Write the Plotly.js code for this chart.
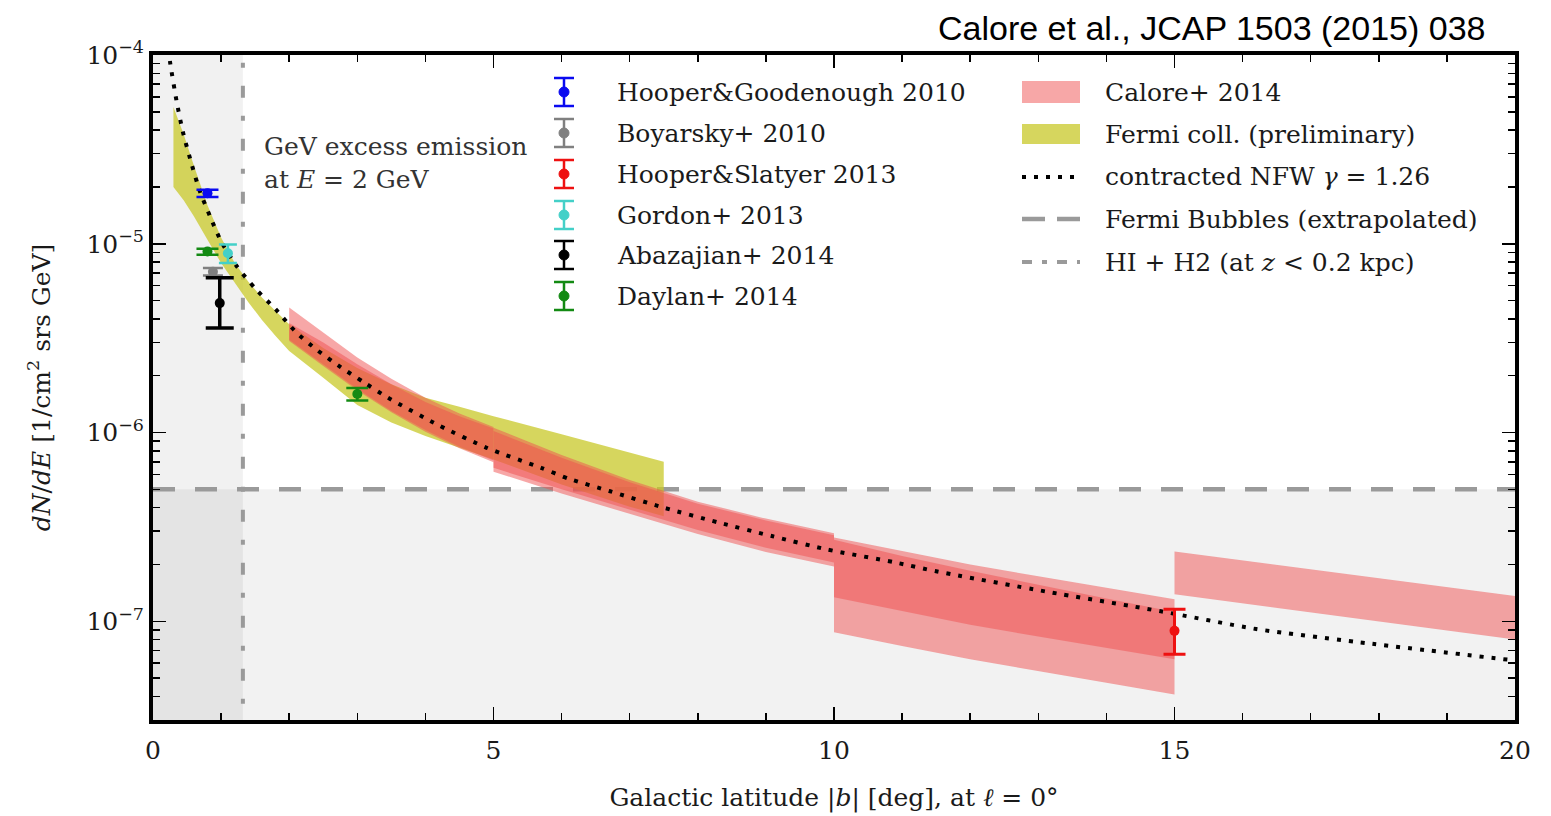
<!DOCTYPE html>
<html><head><meta charset="utf-8">
<script src="https://cdn.plot.ly/plotly-3.0.1.min.js"></script>
<style>html,body{margin:0;padding:0;background:#fff}#chart{width:1551px;height:816px}</style>
</head><body><div id="chart"></div>
<script>
// ---------------- data ----------------
// contracted NFW gamma = 1.26 (dotted curve)
const nfwX = [0.23,0.25,0.35,0.44,0.56,0.68,0.84,1.0,1.23,1.5,1.8,2.1,2.4,2.75,3.1,3.45,4.2,4.9,5.7,6.1,6.7,7.5,8.3,9.1,9.9,10.9,11.5,13.1,14.8,16.2,17.9,20.0];
const nfwY = [1.08e-4,9.2e-5,5.6e-5,3.9e-5,2.7e-5,1.93e-5,1.39e-5,1.03e-5,7.6e-6,5.8e-6,4.5e-6,3.4e-6,2.75e-6,2.23e-6,1.84e-6,1.53e-6,1.09e-6,8.3e-7,6.5e-7,5.7e-7,4.9e-7,4.0e-7,3.34e-7,2.82e-7,2.4e-7,2.05e-7,1.84e-7,1.44e-7,1.13e-7,9.1e-8,7.6e-8,6.2e-8];

// Fermi coll. (preliminary) band
const fermiX  = [0.3,0.45,0.6,0.8,1.0,1.2,1.4,1.6,1.8,2.0,2.5,3.0,3.5,4.0,4.5,5.0,6.0,7.0,7.5];
const fermiHi = [5.3e-5,3.8e-5,2.6e-5,1.6e-5,1.08e-5,7.9e-6,6.3e-6,5.2e-6,4.4e-6,3.75e-6,2.8e-6,2.2e-6,1.8e-6,1.53e-6,1.37e-6,1.22e-6,9.8e-7,7.8e-7,7.0e-7];
const fermiLo = [2.0e-5,1.7e-5,1.4e-5,1.05e-5,7.9e-6,6.2e-6,4.9e-6,3.95e-6,3.25e-6,2.7e-6,1.95e-6,1.4e-6,1.13e-6,9.6e-7,8.3e-7,7.2e-7,5.3e-7,4.05e-7,3.6e-7];

// Calore+ 2014 bands (two overlapping uncertainty bands per latitude bin)
const cal1X   = [2,2.5,3,3.5,4,4.5,5];
const cal1AHi = [4.6e-6,3.4e-6,2.5e-6,1.93e-6,1.53e-6,1.26e-6,1.07e-6];
const cal1ALo = [3.1e-6,2.3e-6,1.7e-6,1.3e-6,1.03e-6,8.4e-7,7.1e-7];
const cal1BHi = [3.8e-6,3.0e-6,2.3e-6,1.8e-6,1.45e-6,1.22e-6,1.05e-6];
const cal1BLo = [3.05e-6,2.25e-6,1.67e-6,1.28e-6,1.01e-6,8.25e-7,6.95e-7];

const cal2X   = [5,6,7,8,9,10];
const cal2AHi = [1.06e-6,7.6e-7,5.6e-7,4.3e-7,3.5e-7,2.93e-7];
const cal2ALo = [6.5e-7,5.0e-7,3.9e-7,3.05e-7,2.45e-7,2.05e-7];
const cal2BHi = [1.02e-6,7.35e-7,5.45e-7,4.2e-7,3.42e-7,2.86e-7];
const cal2BLo = [6.2e-7,4.75e-7,3.7e-7,2.9e-7,2.33e-7,1.95e-7];

const cal3X   = [10,11,12,13,14,15];
const cal3AHi = [2.78e-7,2.35e-7,2.0e-7,1.73e-7,1.5e-7,1.31e-7];
const cal3ALo = [1.34e-7,1.13e-7,9.6e-8,8.3e-8,7.2e-8,6.3e-8];
const cal3BHi = [2.7e-7,2.22e-7,1.85e-7,1.56e-7,1.32e-7,1.12e-7];
const cal3BLo = [8.75e-8,7.4e-8,6.3e-8,5.45e-8,4.72e-8,4.1e-8];

const cal4X   = [15,16,17,18,19,20];
const cal4Hi  = [2.34e-7,2.1e-7,1.89e-7,1.7e-7,1.52e-7,1.36e-7];
const cal4Lo  = [1.39e-7,1.25e-7,1.12e-7,1.0e-7,8.95e-8,8.0e-8];

// Fermi Bubbles (extrapolated) level and HI+H2 latitude
const bubblesLevel = 5e-7;
const hiH2Latitude = 1.32;

// Measurements with error bars
const pointNames  = ["Hooper&Goodenough 2010","Boyarsky+ 2010","Hooper&Slatyer 2013","Gordon+ 2013","Abazajian+ 2014","Daylan+ 2014"];
const pointX      = [[0.8],[0.88],[15.0],[1.1],[0.98],[0.8,3.0]];
const pointY      = [[1.85e-5],[7.1e-6],[8.9e-8],[8.9e-6],[4.85e-6],[9.1e-6,1.6e-6]];
const pointErrUp  = [[0.08e-5],[0.33e-6],[2.7e-8],[1.0e-6],[1.75e-6],[0.3e-6,0.12e-6]];
const pointErrDn  = [[0.08e-5],[0.32e-6],[2.2e-8],[1.0e-6],[1.27e-6],[0.35e-6,0.12e-6]];

// Legend labels (second column) and tick labels
const bandNames = ["Calore+ 2014","Fermi coll. (preliminary)","contracted NFW <i>γ</i> = 1.26","Fermi Bubbles (extrapolated)","HI + H2 (at <i>z</i> < 0.2 kpc)"];
const yTickVals = [1e-7,1e-6,1e-5,1e-4];
const yTickText = ["10<sup>−7</sup>","10<sup>−6</sup>","10<sup>−5</sup>","10<sup>−4</sup>"];
const xTickVals = [0,5,10,15,20];

// ---------------- styles ----------------
const SERIF = "DejaVu Serif";
const pink = "rgba(240,80,80,0.5)";
const yellow = "rgba(200,200,40,0.75)";
const gray = "#9a9a9a";
const pointColors = ["#0a0af0","#808080","#ee1111","#44d0c8","#000000","#138a13"];
const pointThick  = [2.5,2.5,3,2.5,3.5,2.5];
const pointCap    = [11,10,11,9,14,11];
const DASHDOT = "12px,18px,5px,18px";
const DASH = "22px,20px";
const DOT = "4px,8px";

// plot box in pixels
const L=153, R=1515, T=55, B=720, W=R-L, H=B-T;
const px = v => (v-L)/W, py = v => (B-v)/H;

function band(x, hi, lo, color){
  return {x: x.concat(x.slice().reverse()), y: hi.concat(lo.slice().reverse()),
    type:"scatter", mode:"lines", fill:"toself", fillcolor:color, line:{width:0},
    hoverinfo:"skip", showlegend:false};
}

const traces = [];
// reference lines
traces.push({x:[0,20], y:[bubblesLevel,bubblesLevel], type:"scatter", mode:"lines",
  line:{color:gray, width:4.5, dash:DASH}, showlegend:false, name:"Fermi Bubbles (extrapolated)"});
traces.push({x:[hiH2Latitude,hiH2Latitude], y:[1e-9,1e-3], type:"scatter", mode:"lines",
  line:{color:gray, width:4, dash:DASHDOT}, showlegend:false, name:"HI + H2"});
// bands
traces.push(band(fermiX, fermiHi, fermiLo, yellow));
traces.push(band(cal1X, cal1AHi, cal1ALo, pink));
traces.push(band(cal1X, cal1BHi, cal1BLo, pink));
traces.push(band(cal2X, cal2AHi, cal2ALo, pink));
traces.push(band(cal2X, cal2BHi, cal2BLo, pink));
traces.push(band(cal3X, cal3AHi, cal3ALo, pink));
traces.push(band(cal3X, cal3BHi, cal3BLo, pink));
traces.push(band(cal4X, cal4Hi, cal4Lo, pink));
// NFW
traces.push({x:nfwX, y:nfwY, type:"scatter", mode:"lines", line:{color:"#000", width:4, dash:DOT, shape:"spline", smoothing:0.6},
  showlegend:false, name:"contracted NFW"});
// measurements
pointNames.forEach((n,i)=>{
  traces.push({x:pointX[i], y:pointY[i], type:"scatter", mode:"markers", name:n, showlegend:false,
    marker:{color:pointColors[i], size:10},
    error_y:{type:"data", symmetric:false, array:pointErrUp[i], arrayminus:pointErrDn[i],
      color:pointColors[i], thickness:pointThick[i], width:pointCap[i]}});
});

// ---------------- shapes: shading + manual legend glyphs ----------------
const shapes = [
  {type:"rect", xref:"x", yref:"paper", x0:0, x1:hiH2Latitude, y0:0, y1:1, fillcolor:"rgba(0,0,0,0.055)", line:{width:0}, layer:"below"},
  {type:"rect", xref:"paper", yref:"y", x0:0, x1:1, y0:1e-9, y1:bubblesLevel, fillcolor:"rgba(0,0,0,0.05)", line:{width:0}, layer:"below"}
];
const annotations = [];
const legFont = {family:SERIF, size:25, color:"#1a1a1a"};

// column 1: error-bar entries
const rows1 = [92,133,174,215,255,296];
const gx = 564;
pointNames.forEach((n,i)=>{
  const yc = rows1[i], c = pointColors[i];
  const P = {xref:"paper", yref:"paper", layer:"above"};
  shapes.push(Object.assign({type:"line", x0:px(gx), x1:px(gx), y0:py(yc-14), y1:py(yc+14), line:{color:c, width:2.5}}, P));
  shapes.push(Object.assign({type:"line", x0:px(gx-10), x1:px(gx+10), y0:py(yc-14), y1:py(yc-14), line:{color:c, width:2.5}}, P));
  shapes.push(Object.assign({type:"line", x0:px(gx-10), x1:px(gx+10), y0:py(yc+14), y1:py(yc+14), line:{color:c, width:2.5}}, P));
  shapes.push(Object.assign({type:"circle", x0:px(gx-5), x1:px(gx+5), y0:py(yc+5), y1:py(yc-5), fillcolor:c, line:{color:c, width:1}}, P));
  annotations.push({xref:"paper", yref:"paper", x:px(615), y:py(yc), xanchor:"left", yanchor:"middle", text:n, showarrow:false, font:legFont});
});

// column 2: bands and lines
const rows2 = [92,134,177,219,262];
const bx0 = 1022, bx1 = 1080;
const P2 = {xref:"paper", yref:"paper", layer:"above"};
shapes.push(Object.assign({type:"rect", x0:px(bx0), x1:px(bx1), y0:py(rows2[0]-11), y1:py(rows2[0]+11), fillcolor:pink, line:{width:0}}, P2));
shapes.push(Object.assign({type:"rect", x0:px(bx0), x1:px(bx1), y0:py(rows2[1]-10), y1:py(rows2[1]+10), fillcolor:yellow, line:{width:0}}, P2));
shapes.push(Object.assign({type:"line", x0:px(bx0), x1:px(bx1), y0:py(rows2[2]), y1:py(rows2[2]), line:{color:"#000", width:4, dash:"4px,8px"}}, P2));
shapes.push(Object.assign({type:"line", x0:px(bx0), x1:px(bx1), y0:py(rows2[3]), y1:py(rows2[3]), line:{color:gray, width:4.5, dash:"23px,12px"}}, P2));
shapes.push(Object.assign({type:"line", x0:px(bx0), x1:px(bx1), y0:py(rows2[4]), y1:py(rows2[4]), line:{color:gray, width:4, dash:"10px,10px,5px,10px"}}, P2));
bandNames.forEach((n,i)=>{
  annotations.push({xref:"paper", yref:"paper", x:px(1103), y:py(rows2[i]), xanchor:"left", yanchor:"middle", text:n, showarrow:false, font:legFont});
});

// in-plot label
annotations.push({xref:"paper", yref:"paper", x:px(262), y:py(163), xanchor:"left", yanchor:"middle", align:"left",
  text:"GeV excess emission<br>at <i>E</i> = 2 GeV", showarrow:false, font:{family:SERIF, size:25, color:"#333"}});
// citation
annotations.push({xref:"paper", yref:"paper", x:px(1488), y:py(28), xanchor:"right", yanchor:"middle",
  text:"Calore et al., JCAP 1503 (2015) 038", showarrow:false, font:{family:"Liberation Sans", size:34, color:"#000"}});

// minor ticks for log axis
const yMinor = [];
for (let e=-8; e<=-5; e++) for (let m=2; m<=9; m++) yMinor.push(m*Math.pow(10,e));

const layout = {
  width:1551, height:816,
  margin:{l:L, r:1551-R, t:T, b:816-B},
  paper_bgcolor:"#fff", plot_bgcolor:"#fff",
  showlegend:false,
  font:{family:SERIF, size:25, color:"#1a1a1a"},
  xaxis:{range:[0,20], tickmode:"array", tickvals:xTickVals, showgrid:false, zeroline:false,
    showline:true, linecolor:"#000", linewidth:4, mirror:"allticks",
    ticks:"inside", ticklen:13, tickwidth:1.5, tickcolor:"#000", ticklabelstandoff:5,
    minor:{dtick:1, tick0:0, ticks:"inside", ticklen:7, tickwidth:1.5, tickcolor:"#000", showgrid:false},
    tickfont:{family:SERIF, size:25, color:"#1a1a1a"},
    title:{text:"Galactic latitude |<i>b</i>| [deg], at <i>ℓ</i> = 0°", font:{family:SERIF, size:25, color:"#1a1a1a"}, standoff:25}},
  yaxis:{type:"log", range:[Math.log10(3.0e-8), -4], tickmode:"array", tickvals:yTickVals, ticktext:yTickText,
    showgrid:false, zeroline:false, showline:true, linecolor:"#000", linewidth:4, mirror:"allticks",
    ticks:"inside", ticklen:13, tickwidth:1.5, tickcolor:"#000",
    minor:{tickmode:"array", tickvals:yMinor, ticks:"inside", ticklen:7, tickwidth:1.5, tickcolor:"#000", showgrid:false},
    tickfont:{family:SERIF, size:25, color:"#1a1a1a"},
    title:{text:"<i>dN</i>/<i>dE</i> [1/cm<sup>2</sup> srs GeV]", font:{family:SERIF, size:25, color:"#1a1a1a"}, standoff:30}},
  shapes:shapes, annotations:annotations
};

Plotly.newPlot("chart", traces, layout, {staticPlot:true, displayModeBar:false});
</script></body></html>
